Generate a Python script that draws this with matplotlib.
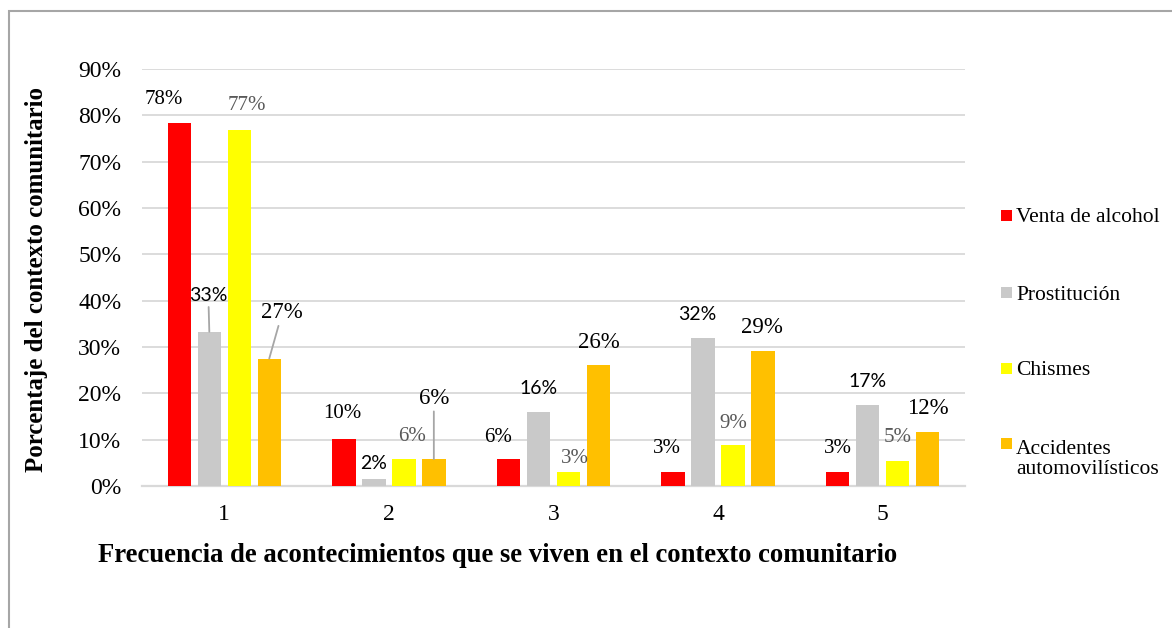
import numpy as np
import matplotlib.pyplot as plt
from matplotlib.patches import Rectangle

# frequency categories
categories = [1, 2, 3, 4, 5]
series_names = ['Venta de alcohol', 'Prostitución', 'Chismes',
                'Accidentes\nautomovilísticos']
venta = [78.3, 10.1, 5.8, 3.0, 3.0]
prostitucion = [33.3, 1.5, 15.9, 32.0, 17.4]
chismes = [76.9, 5.8, 3.0, 8.8, 5.4]
accidentes = [27.5, 5.8, 26.1, 29.1, 11.7]
labels_venta = ['78%', '10%', '6%', '3%', '3%']
labels_prost = ['33%', '2%', '16%', '32%', '17%']
labels_chism = ['77%', '6%', '3%', '9%', '5%']
labels_accid = ['27%', '6%', '26%', '29%', '12%']

colors = ['#FF0000', '#C9C9C9', '#FFFF00', '#FFC000']
serif = 'Liberation Serif'

# label look per series: family, size, colour
label_style = [
    (serif, 15, 'black'),
    ('Lato', 14, 'black'),
    (serif, 15, '#595959'),
    (serif, 16.5, 'black'),
]
# label offsets from bar top (pixels), and whether a leader line is drawn
label_offsets = [
    [(-16, 24), (-2, 26), (-11, 22), (-6, 24), (0, 24)],
    [(-1, 36), (0, 16), (0, 24), (-6, 23), (0, 24)],
    [(8, 24), (8, 23), (6, 14), (0, 22), (0, 23)],
    [(13, 46), (0, 61), (0, 23), (-1, 24), (0, 23)],
]
leaders = {(1, 0), (3, 0), (3, 1)}

values = [venta, prostitucion, chismes, accidentes]
texts = [labels_venta, labels_prost, labels_chism, labels_accid]

fig = plt.figure(figsize=(11.72, 6.28), dpi=100)
W, H = 1172, 628
ax = fig.add_axes([142 / W, 1 - 486 / H, 823 / W, 417 / H])

x = np.array(categories, dtype=float)
step = 0.182
width = 0.142
for i, vals in enumerate(values):
    pos = x + (i - 1.5) * step
    ax.bar(pos, vals, width=width, color=colors[i], zorder=3,
           label=series_names[i])
    fam, size, col = label_style[i]
    for j, v in enumerate(vals):
        dx, dy = label_offsets[i][j]
        kw = {}
        if (i, j) in leaders:
            kw['arrowprops'] = dict(arrowstyle='-', color='#A6A6A6', lw=1.3,
                                    shrinkA=0, shrinkB=0)
        ax.annotate(texts[i][j], xy=(pos[j], v), xytext=(dx, dy),
                    textcoords='offset pixels', ha='center', va='center',
                    family=fam, fontsize=size, color=col, zorder=4, **kw)

ax.set_xlim(0.5, 5.5)
ax.set_ylim(0, 90)
ax.set_yticks(np.arange(0, 91, 10))
ax.set_yticklabels([f'{t}%' for t in range(0, 91, 10)])
ax.set_xticks(categories)
ax.yaxis.grid(True, color='#D9D9D9', lw=1.3, zorder=0)
for s in ['top', 'right', 'left']:
    ax.spines[s].set_visible(False)
ax.spines['bottom'].set_color('#D9D9D9')
ax.spines['bottom'].set_linewidth(1.6)
ax.tick_params(axis='y', length=0, pad=15, labelsize=17)
ax.tick_params(axis='x', length=0, pad=13, labelsize=17)
for lab in ax.get_xticklabels() + ax.get_yticklabels():
    lab.set_family(serif)

fig.text(37 / W, 1 - 279 / H, 'Porcentaje del contexto comunitario',
         rotation=90, ha='center', va='center', family=serif,
         fontweight='bold', fontsize=17.9)
fig.text(497.5 / W, 1 - 556 / H,
         'Frecuencia de acontecimientos que se viven en el contexto comunitario',
         ha='center', va='center', family=serif, fontweight='bold',
         fontsize=19.2)

# legend: square marker next to the first line of each entry
leg_y = [215, 293, 368, 443]
line_px = 24
for i, name in enumerate(series_names):
    yc = leg_y[i]
    fig.patches.append(Rectangle((1001 / W, 1 - (yc + 5.5) / H), 11 / W,
                                 11 / H, transform=fig.transFigure,
                                 facecolor=colors[i], edgecolor='none'))
    # baseline refers to the last line of the label
    base = yc + 7 + (name.count('\n')) * line_px
    fig.text(1016 / W, 1 - base / H, name, ha='left', va='baseline',
             family=serif, fontsize=15.5, linespacing=1.1)

# outer chart border (only top and left edges fall inside the picture)
fig.patches.append(Rectangle((8.5 / W, -0.1), 1.2, 1.1 - 11 / H,
                             transform=fig.transFigure, fill=False,
                             edgecolor='#A6A6A6', lw=1.5))

fig.savefig('out.png', dpi=100)
